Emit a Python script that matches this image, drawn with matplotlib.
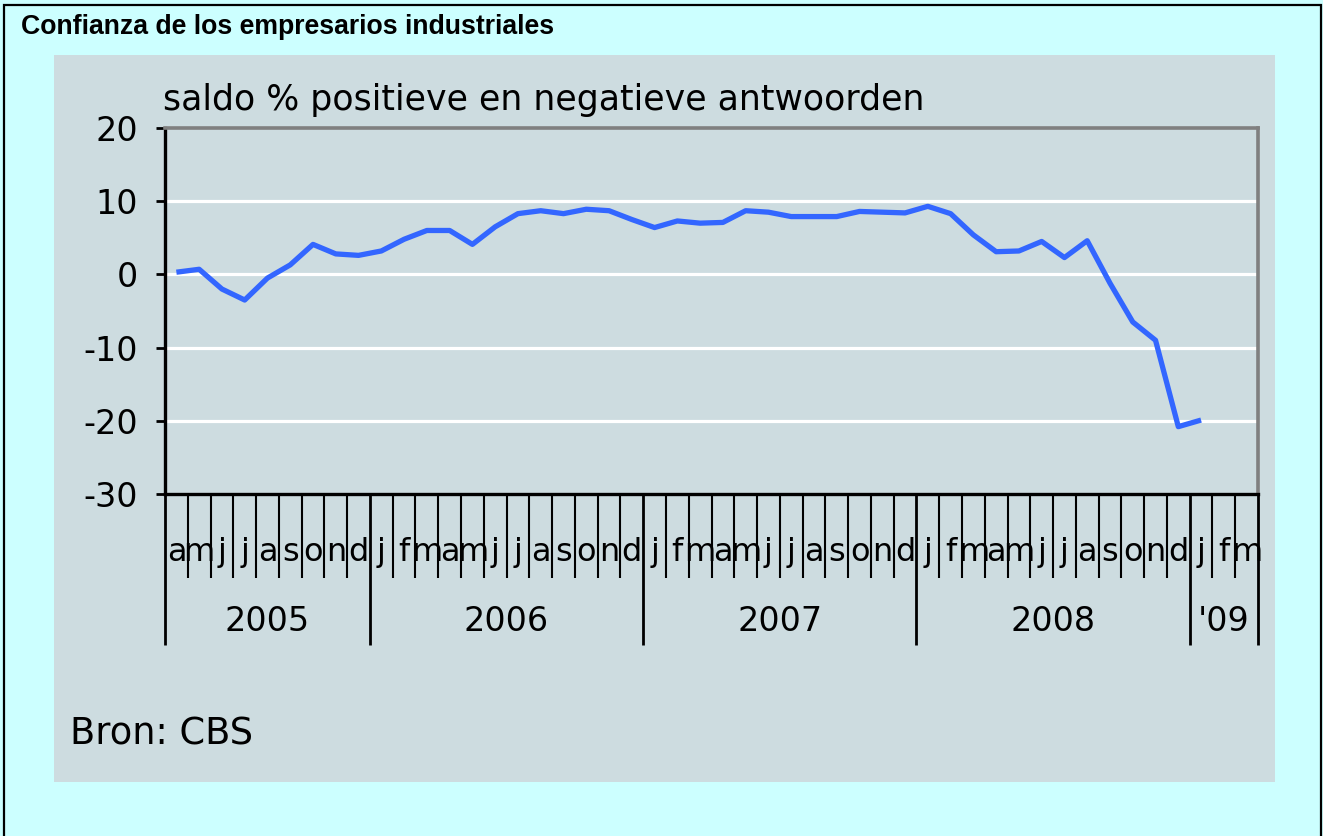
import matplotlib
matplotlib.use("Agg")
import matplotlib.pyplot as plt
from matplotlib.patches import Rectangle

# ---------------- data ----------------
months = ["a", "m", "j", "j", "a", "s", "o", "n", "d",
          "j", "f", "m", "a", "m", "j", "j", "a", "s", "o", "n", "d",
          "j", "f", "m", "a", "m", "j", "j", "a", "s", "o", "n", "d",
          "j", "f", "m", "a", "m", "j", "j", "a", "s", "o", "n", "d",
          "j", "f", "m"]
years = ["2005", "2006", "2007", "2008", "'09"]
year_months = [9, 12, 12, 12, 3]
values = [0.3, 0.7, -2.0, -3.5, -0.5, 1.3, 4.1, 2.8, 2.6,
          3.2, 4.8, 6.0, 6.0, 4.1, 6.5, 8.3, 8.7, 8.3, 8.9, 8.7, 7.5,
          6.4, 7.3, 7.0, 7.1, 8.7, 8.5, 7.9, 7.9, 7.9, 8.6, 8.5, 8.4,
          9.3, 8.3, 5.4, 3.1, 3.2, 4.5, 2.3, 4.6, -1.2, -6.5, -9.0, -20.8,
          -19.9]
yticks = [-30, -20, -10, 0, 10, 20]
gridvals = [-20, -10, 0, 10]

title = "Confianza de los empresarios industriales"
subtitle = "saldo % positieve en negatieve antwoorden"
source = "Bron: CBS"

# ---------------- layout ----------------
W, H = 1323, 836
fig = plt.figure(figsize=(W / 100, H / 100), dpi=100)
fig.patch.set_facecolor("#CCFFFF")

def fx(x):
    return x / W

def fy(y):
    return 1 - y / H

panel_col = "#CDDCE0"
fig.patches.append(Rectangle((fx(54), fy(782)), (1275 - 54) / W, (782 - 55) / H,
                             transform=fig.transFigure, facecolor=panel_col,
                             edgecolor="none", zorder=-10))
fig.patches.append(Rectangle((fx(4), fy(850)), (1321 - 4) / W, (850 - 5) / H,
                             transform=fig.transFigure, facecolor="none",
                             edgecolor="black", linewidth=1.6, zorder=-9))

fig.text(fx(21), fy(27), title, fontsize=19.2, fontweight="bold",
         family=["Liberation Sans", "DejaVu Sans"], va="center", ha="left")

ax = fig.add_axes([fx(165), fy(494), 1093 / W, 366 / H])
ax.set_facecolor(panel_col)
ax.set_xlim(0, len(months))
ax.set_ylim(-30, 20)

for g in gridvals:
    ax.axhline(g, color="white", lw=2.3, zorder=1)

x = [i + 0.5 for i in range(len(values))]
ax.plot(x, values, color="#3366FF", lw=3.8, zorder=3, solid_capstyle="butt")

for s in ["left", "bottom"]:
    ax.spines[s].set_color("black")
    ax.spines[s].set_linewidth(2.4)
for s in ["top", "right"]:
    ax.spines[s].set_color("#808080")
    ax.spines[s].set_linewidth(2.6)

ax.set_yticks(yticks)
ax.set_yticklabels([str(v) for v in yticks])
ax.tick_params(axis="y", length=6.5, width=2, direction="out", pad=13,
               labelsize=24, colors="black")
ax.set_xticks([])

tr = ax.get_xaxis_transform()
year_bounds = [0]
for n in year_months:
    year_bounds.append(year_bounds[-1] + n)

for i, m in enumerate(months):
    ax.text(i + 0.5, -0.161, m, transform=tr, ha="center", va="center",
            fontsize=23, zorder=2, clip_on=False)

for k in range(len(months) + 1):
    if k in year_bounds:
        ax.plot([k, k], [0, -0.413], transform=tr, color="black", lw=2.0,
                clip_on=False, zorder=4, solid_capstyle="butt")
    else:
        ax.plot([k, k], [0, -0.23], transform=tr, color="black", lw=1.5,
                clip_on=False, zorder=4, solid_capstyle="butt")

for yr, a, b in zip(years, year_bounds[:-1], year_bounds[1:]):
    ax.text((a + b) / 2, -0.347, yr, transform=tr, ha="center", va="center",
            fontsize=24, clip_on=False)

ax.text(-0.002, 1.0765, subtitle, transform=ax.transAxes, ha="left",
        va="center", fontsize=25)

fig.text(fx(70), fy(734), source, fontsize=26.5, ha="left", va="center")

fig.savefig("out.png", dpi=100, facecolor=fig.get_facecolor())
